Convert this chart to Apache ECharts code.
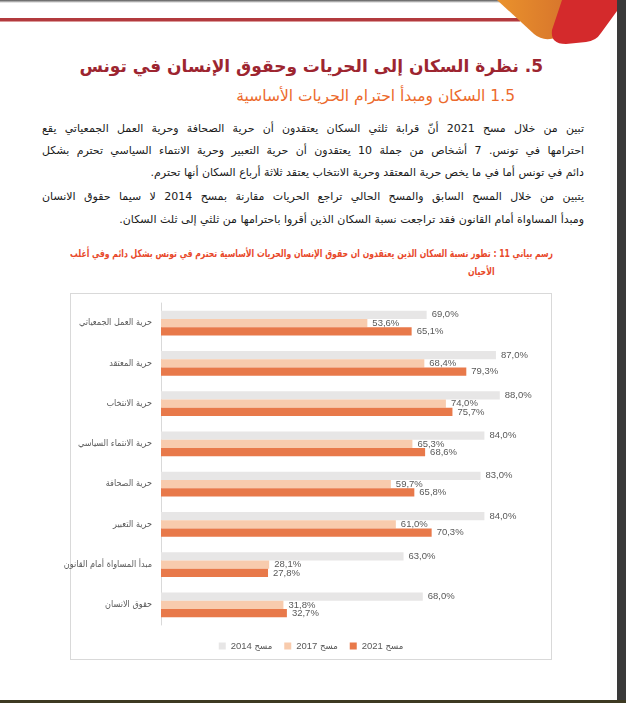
<!DOCTYPE html>
<html><head><meta charset="utf-8">
<script src="https://cdn.jsdelivr.net/npm/echarts@6/dist/echarts.min.js"></script>
<style>
html,body{margin:0;padding:0;}
body{width:626px;height:703px;position:relative;overflow:hidden;background:#fff;font-family:"DejaVu Sans",sans-serif;}
.abs{position:absolute;white-space:nowrap;}
#title{right:83px;top:56px;font-size:17px;font-weight:bold;color:#9D2530;direction:rtl;}
#subtitle{right:111px;top:87px;font-size:15.5px;color:#EC6A2C;direction:rtl;}
.para{right:42px;width:542px;font-size:11px;color:#1a1a1a;direction:rtl;line-height:16px;}
.full{text-align:justify;text-align-last:justify;}
.last{text-align:right;}
.cap{font-size:10.5px;font-weight:bold;color:#E8492B;direction:rtl;line-height:14px;font-family:"DejaVu Sans Condensed","DejaVu Sans",sans-serif;transform-origin:100% 50%;}
#frame{position:absolute;left:70px;top:293px;width:482px;height:367px;border:1px solid #D9D9D9;box-sizing:border-box;}
#chart{position:absolute;left:60px;top:294px;width:502px;height:365px;}
#rightEdge{position:absolute;left:617px;top:0;width:9px;height:703px;background:#3a3a3a;}
#bottomEdge{position:absolute;left:0;top:700px;width:626px;height:3px;background:#3d3a22;}
#topEdge{position:absolute;left:0;top:0;width:626px;height:3px;background:linear-gradient(#555,#fff);}
</style></head>
<body>
<div id="topEdge"></div>
<svg class="abs" style="left:0;top:0" width="626" height="60">
  <defs>
    <linearGradient id="og" x1="0" y1="0" x2="1" y2="0">
      <stop offset="0" stop-color="#EA922C"/><stop offset="1" stop-color="#D4702C"/>
    </linearGradient>
  </defs>
  <rect x="0" y="18" width="520" height="3" fill="#B23A3E"/>
  <rect x="0" y="21" width="520" height="1" fill="#DC9A9A"/>
  <path d="M497,0 L534,34 Q541,40 550,39 L562,37 L578,0 Z" fill="url(#og)"/>
  <path d="M562,0 L552,30 Q550,44 566,44 L586,42 Q596,41 601,33 L625,0 Z" fill="#D42A2C"/>
</svg>
<div id="rightEdge"></div>
<div id="bottomEdge"></div>

<div id="title" class="abs">5. نظرة السكان إلى الحريات وحقوق الإنسان في تونس</div>
<div id="subtitle" class="abs">1.5 السكان ومبدأ احترام الحريات الأساسية</div>

<div class="abs para full" style="top:121px">تبين من خلال مسح 2021 أنّ قرابة ثلثي السكان يعتقدون أن حرية الصحافة وحرية العمل الجمعياتي يقع</div>
<div class="abs para full" style="top:143px">احترامها في تونس. 7 أشخاص من جملة 10 يعتقدون أن حرية التعبير وحرية الانتماء السياسي تحترم بشكل</div>
<div class="abs para last" style="top:165px">دائم في تونس أما في ما يخص حرية المعتقد وحرية الانتخاب يعتقد ثلاثة أرباع السكان أنها تحترم.</div>
<div class="abs para full" style="top:189px">يتبين من خلال المسح السابق والمسح الحالي تراجع الحريات مقارنة بمسح 2014 لا سيما حقوق الانسان</div>
<div class="abs para last" style="top:212px">ومبدأ المساواة أمام القانون فقد تراجعت نسبة السكان الذين أقروا باحترامها من ثلثي إلى ثلث السكان.</div>

<div id="cap1" class="abs cap" style="right:73px;top:246px">رسم بياني 11 : تطور نسبة السكان الذين يعتقدون ان حقوق الإنسان والحريات الأساسية تحترم في تونس بشكل دائم وفي أغلب</div>
<div id="cap2" class="abs cap" style="right:131px;top:264px">الأحيان</div>

<div id="frame"></div>
<div id="chart"></div>
<script>
const categories = ['حرية العمل الجمعياتي','حرية المعتقد','حرية الانتخاب','حرية الانتماء السياسي','حرية الصحافة','حرية التعبير','مبدأ المساواة أمام القانون','حقوق الانسان'];
const survey2014 = [69.0, 87.0, 88.0, 84.0, 83.0, 84.0, 63.0, 68.0];
const survey2017 = [53.6, 68.4, 74.0, 65.3, 59.7, 61.0, 28.1, 31.8];
const survey2021 = [65.1, 79.3, 75.7, 68.6, 65.8, 70.3, 27.8, 32.7];
const seriesNames = ['مسح 2014', 'مسح 2017', 'مسح 2021'];
const seriesColors = ['#E7E6E6', '#F8CBAD', '#E8794A'];

// fit caption line to its width in the reference
(function(){
  const c = document.getElementById('cap1');
  const w = c.getBoundingClientRect().width;
  const s = 483 / w;
  c.style.transform = 'scaleX(' + s + ')';
  document.getElementById('cap2').style.transform = 'scaleX(' + s + ')';
})();

const chart = echarts.init(document.getElementById('chart'));
const fmt = p => p.value.toFixed(1).replace('.', ',') + '%';
const mk = (name, data, color) => ({
  name: name, type: 'bar', data: data, barWidth: 8.3, barGap: '0%',
  itemStyle: {color: color},
  label: {show: true, position: 'right', distance: 5, formatter: fmt,
          color: '#595959', fontSize: 9.5, fontFamily: 'Liberation Sans'}
});
chart.setOption({
  animation: false,
  grid: {left: 101, right: 16, top: 9, bottom: 34, containLabel: false, outerBoundsMode: 'none'},
  xAxis: {type: 'value', min: 0, max: 100, show: false},
  yAxis: {type: 'category', data: categories, inverse: true,
    axisLine: {lineStyle: {color: '#D9D9D9'}}, axisTick: {show: false},
    axisLabel: {color: '#595959', fontSize: 9, margin: 9, fontFamily: 'DejaVu Sans Condensed, DejaVu Sans'}},
  legend: {data: seriesNames, bottom: 3, left: 'center', icon: 'rect', itemWidth: 7, itemHeight: 7, itemGap: 12,
    textStyle: {color: '#595959', fontSize: 9.5, fontFamily: 'Liberation Sans, DejaVu Sans Condensed'}},
  series: [mk(seriesNames[0], survey2014, seriesColors[0]),
           mk(seriesNames[1], survey2017, seriesColors[1]),
           mk(seriesNames[2], survey2021, seriesColors[2])]
});
</script>
</body></html>
